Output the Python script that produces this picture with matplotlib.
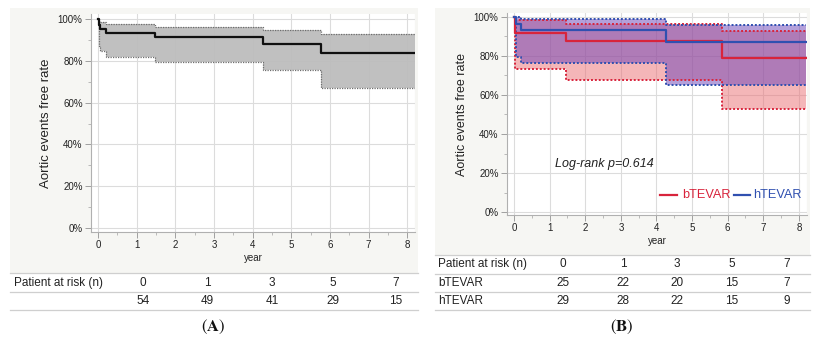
import numpy as np
import matplotlib
matplotlib.use("Agg")
import matplotlib.pyplot as plt
from matplotlib.patches import Rectangle
from matplotlib.lines import Line2D
from matplotlib.ticker import MultipleLocator, FuncFormatter

plt.rcParams['font.family'] = ['Liberation Sans', 'DejaVu Sans']
plt.rcParams['mathtext.fontset'] = 'stix'

# ---------------- data ----------------
T_END = 8.2
# Panel A (all patients)
a_times = [0, 0.03, 0.06, 0.21, 1.47, 4.26, 5.77]
a_surv = [100, 97.0, 95.0, 93.2, 91.2, 88.2, 83.6]
a_upper = [100, 98.7, 98.7, 97.4, 96.2, 94.7, 92.6]
a_lower = [100, 87.0, 84.5, 82.0, 79.5, 75.6, 67.2]

# Panel B
b_times = [0, 0.02, 1.47, 5.83]
b_surv = [100, 92.0, 87.7, 79.0]
b_upper = [100, 98.4, 96.3, 92.6]
b_lower = [100, 73.3, 67.9, 53.0]

h_times = [0, 0.04, 0.19, 4.28]
h_surv = [100, 96.6, 93.1, 87.1]
h_upper = [100, 99.8, 98.7, 96.1]
h_lower = [100, 79.5, 76.6, 65.0]

risk_times = [0, 1, 3, 5, 7]
a_risk = [54, 49, 41, 29, 15]
b_risk = [25, 22, 20, 15, 7]
h_risk = [29, 28, 22, 15, 9]

# ---------------- figure ----------------
W, H = 819, 343
fig = plt.figure(figsize=(W / 100, H / 100), dpi=100)
fig.patch.set_facecolor('white')

def fx(x):
    return x / W

def fy(y):
    return 1 - y / H

BG = '#f6f6f3'
# panel backgrounds
fig.patches.append(Rectangle((fx(10), fy(273)), fx(418) - fx(10), fy(8) - fy(273),
                             transform=fig.transFigure, facecolor=BG, edgecolor='none', zorder=-5))
fig.patches.append(Rectangle((fx(435), fy(255)), fx(810) - fx(435), fy(8) - fy(255),
                             transform=fig.transFigure, facecolor=BG, edgecolor='none', zorder=-5))

def ext(t, v):
    return list(t) + [T_END], list(v) + [v[-1]]

def style_axes(ax, xlim, ylim):
    ax.set_zorder(2)
    ax.set_xlim(*xlim)
    ax.set_ylim(*ylim)
    ax.set_facecolor('white')
    for s in ['top', 'right']:
        ax.spines[s].set_visible(False)
    for s in ['left', 'bottom']:
        ax.spines[s].set_color('#b0b0b0')
        ax.spines[s].set_linewidth(0.8)
    ax.xaxis.set_major_locator(MultipleLocator(1))
    ax.xaxis.set_minor_locator(MultipleLocator(0.5))
    ax.yaxis.set_major_locator(MultipleLocator(20))
    ax.yaxis.set_minor_locator(MultipleLocator(10))
    ax.yaxis.set_major_formatter(FuncFormatter(lambda v, p: f"{int(round(v))}%"))
    ax.tick_params(which='major', length=4, width=0.7, color='#a0a0a0', labelsize=7, labelcolor='#222222', pad=2)
    ax.tick_params(which='minor', length=2, width=0.6, color='#b0b0b0')
    ax.grid(True, which='major', color='#dcdcdc', linewidth=0.8)
    ax.set_axisbelow(True)
    ax.axvline(xlim[1], color='#dcdcdc', linewidth=0.8, zorder=0)

# ---- Panel A ----
axA = fig.add_axes([fx(91), fy(232), fx(415) - fx(91), fy(14) - fy(232)])
style_axes(axA, (-0.18, 8.2), (-1.9, 102.4))
tx, lo = ext(a_times, a_lower)
_, up = ext(a_times, a_upper)
axA.fill_between(tx, lo, up, step='post', color='#bdbdbd', alpha=0.95, linewidth=0, zorder=2)
axA.step(tx, lo, where='post', color='#6e6e6e', linestyle=(0, (1, 1)), linewidth=0.9, zorder=3)
axA.step(tx, up, where='post', color='#6e6e6e', linestyle=(0, (1, 1)), linewidth=0.9, zorder=3)
_, sv = ext(a_times, a_surv)
axA.step(tx, sv, where='post', color='#111111', linewidth=1.6, zorder=4)
axA.set_ylabel('Aortic events free rate', fontsize=9.5, color='#222222', labelpad=4)
axA.set_xlabel('year', fontsize=7, color='#222222', labelpad=2)

# ---- Panel B ----
RED = '#d8243c'
BLUE = '#3050b0'
axB = fig.add_axes([fx(507), fy(215), fx(807) - fx(507), fy(13) - fy(215)])
style_axes(axB, (-0.2, 8.23), (-1.5, 102))
tb, blo = ext(b_times, b_lower)
_, bup = ext(b_times, b_upper)
_, bsv = ext(b_times, b_surv)
th, hlo = ext(h_times, h_lower)
_, hup = ext(h_times, h_upper)
_, hsv = ext(h_times, h_surv)
axB.fill_between(tb, blo, bup, step='post', color=(235/255, 110/255, 115/255), alpha=0.5, linewidth=0, zorder=2)
axB.fill_between(th, hlo, hup, step='post', color=(107/255, 66/255, 183/255), alpha=0.5, linewidth=0, zorder=2)
for (t, v, c) in [(tb, blo, RED), (tb, bup, RED), (th, hlo, BLUE), (th, hup, BLUE)]:
    axB.step(t, v, where='post', color=c, linestyle=(0, (1, 1)), linewidth=1.4, zorder=3)
axB.step(tb, bsv, where='post', color=RED, linewidth=1.6, zorder=4)
axB.step(th, hsv, where='post', color=BLUE, linewidth=1.6, zorder=5)
axB.set_ylabel('Aortic events free rate', fontsize=9, color='#222222', labelpad=4)
axB.set_xlabel('year', fontsize=7, color='#222222', labelpad=2)
axB.text(0.16, 0.25, 'Log-rank p=0.614', transform=axB.transAxes, fontsize=9,
         style='italic', color='#222222', ha='left', va='center')
# legend (lines + coloured texts)
ly = fy(195)
fig.add_artist(Line2D([fx(660), fx(677)], [ly, ly], transform=fig.transFigure, color=RED, linewidth=1.6, zorder=5))
fig.text(fx(682), ly, 'bTEVAR', color=RED, fontsize=9.2, ha='left', va='center', zorder=5)
fig.add_artist(Line2D([fx(734), fx(750)], [ly, ly], transform=fig.transFigure, color=BLUE, linewidth=1.6, zorder=5))
fig.text(fx(753), ly, 'hTEVAR', color=BLUE, fontsize=9.2, ha='left', va='center', zorder=5)

# ---------------- risk tables ----------------
LINEC = '#cfcfcf'
TFS = 8.5
def hline(x0, x1, y):
    fig.add_artist(Line2D([fx(x0), fx(x1)], [fy(y), fy(y)], transform=fig.transFigure,
                          color=LINEC, linewidth=0.9))

# Table A
for y in [273, 292, 310]:
    hline(10, 418, y)
colsA = [143, 207, 272, 333, 396]
fig.text(fx(14), fy(283), 'Patient at risk (n)', fontsize=TFS, color='#222222', ha='left', va='center')
for x, t, n in zip(colsA, risk_times, a_risk):
    fig.text(fx(x), fy(283), str(t), fontsize=TFS, color='#222222', ha='center', va='center')
    fig.text(fx(x), fy(301), str(n), fontsize=TFS, color='#222222', ha='center', va='center')

# Table B
for y in [255, 274, 292, 310]:
    hline(435, 810, y)
colsB = [563, 623, 677, 732, 787]
fig.text(fx(438), fy(264), 'Patient at risk (n)', fontsize=TFS, color='#222222', ha='left', va='center')
fig.text(fx(438), fy(283), 'bTEVAR', fontsize=TFS, color='#222222', ha='left', va='center')
fig.text(fx(438), fy(301), 'hTEVAR', fontsize=TFS, color='#222222', ha='left', va='center')
for x, t, b, h in zip(colsB, risk_times, b_risk, h_risk):
    fig.text(fx(x), fy(264), str(t), fontsize=TFS, color='#222222', ha='center', va='center')
    fig.text(fx(x), fy(283), str(b), fontsize=TFS, color='#222222', ha='center', va='center')
    fig.text(fx(x), fy(301), str(h), fontsize=TFS, color='#222222', ha='center', va='center')

# panel labels
fig.text(fx(213), fy(327), r'$(\mathbf{A})$', fontsize=12, ha='center', va='center', color='#111111')
fig.text(fx(622), fy(327), r'$(\mathbf{B})$', fontsize=12, ha='center', va='center', color='#111111')

fig.savefig('out.png', dpi=100, facecolor='white')
